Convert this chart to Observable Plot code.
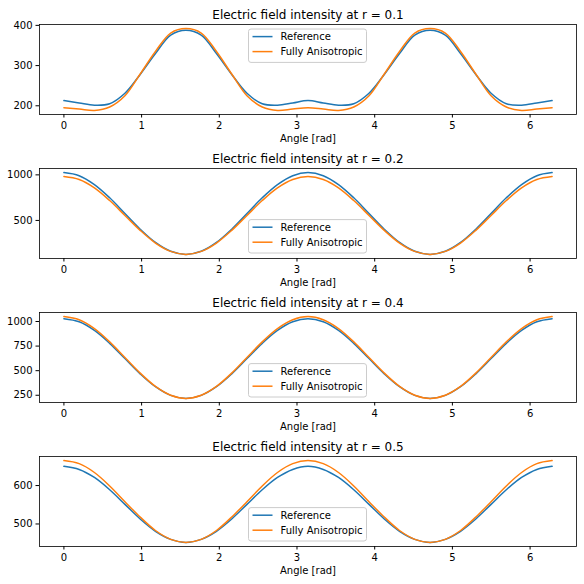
<!DOCTYPE html>
<html>
<head>
<meta charset="utf-8">
<script src="https://cdn.jsdelivr.net/npm/d3@7"></script>
<script src="https://cdn.jsdelivr.net/npm/@observablehq/plot@0.6"></script>
<style>
  html, body { margin: 0; padding: 0; background: #fff; }
  #chart { width: 584px; height: 584px; overflow: hidden; background: #fff; }
  #chart svg { display: block; }
</style>
</head>
<body>
<div id="chart"></div>
<script>
// ---- Data ----
const angles = [0, 0.19635, 0.3927, 0.58905, 0.7854, 0.98175, 1.1781, 1.37445, 1.5708,
  1.76715, 1.9635, 2.15985, 2.35619, 2.55254, 2.74889, 2.94524, 3.14159,
  3.33794, 3.53429, 3.73064, 3.92699, 4.12334, 4.31969, 4.51604, 4.71239,
  4.90874, 5.10509, 5.30144, 5.49779, 5.69414, 5.89049, 6.08684, 6.28319];

const radii = ["0.1", "0.2", "0.4", "0.5"];
const seriesNames = ["Reference", "Fully Anisotropic"];
const seriesColors = ["#1f77b4", "#ff7f0e"];

const ref01 = [213, 207, 201.5, 205, 231, 278, 330, 376, 388, 376, 330, 278, 231, 205, 201.5, 207, 213,
  207, 201.5, 205, 231, 278, 330, 376, 388, 376, 330, 278, 231, 205, 201.5, 207, 213];
const aniso01 = [195, 192, 188.5, 197, 225, 279, 335, 381, 392, 381, 335, 279, 225, 197, 188.5, 192, 195,
  192, 188.5, 197, 225, 279, 335, 381, 392, 381, 335, 279, 225, 197, 188.5, 192, 195];

const ref02 = [1025, 991, 893, 748, 576, 404, 258, 161, 127, 161, 258, 404, 576, 748, 893, 991, 1025,
  991, 893, 748, 576, 404, 258, 161, 127, 161, 258, 404, 576, 748, 893, 991, 1025];
const aniso02 = [982, 949, 857, 718, 555, 391, 252, 160, 127, 160, 252, 391, 555, 718, 857, 949, 982,
  949, 857, 718, 555, 391, 252, 160, 127, 160, 252, 391, 555, 718, 857, 949, 982];

const ref04 = [1028, 997, 909, 778, 623, 468, 337, 249, 218, 249, 337, 468, 623, 778, 909, 997, 1028,
  997, 909, 778, 623, 468, 337, 249, 218, 249, 337, 468, 623, 778, 909, 997, 1028];
const aniso04 = [1050, 1018, 928, 793, 634, 475, 340, 250, 218, 250, 340, 475, 634, 793, 928, 1018, 1050,
  1018, 928, 793, 634, 475, 340, 250, 218, 250, 340, 475, 634, 793, 928, 1018, 1050];

const ref05 = [650, 642, 621, 589, 551, 513, 481, 460, 452, 460, 481, 513, 551, 589, 621, 642, 650,
  642, 621, 589, 551, 513, 481, 460, 452, 460, 481, 513, 551, 589, 621, 642, 650];
const aniso05 = [665, 657, 634, 599, 558, 518, 483, 460, 452, 460, 483, 518, 558, 599, 634, 657, 665,
  657, 634, 599, 558, 518, 483, 460, 452, 460, 483, 518, 558, 599, 634, 657, 665];

const xTicks = [0, 1, 2, 3, 4, 5, 6];
const yTicks01 = [200, 300, 400];
const yTicks02 = [500, 1000];
const yTicks04 = [250, 500, 750, 1000];
const yTicks05 = [500, 600];
const legendPlacement = ["top", "bottom", "bottom", "bottom"];
const xLabel = "Angle [rad]";

// ---- Build panels ----
const refs = [ref01, ref02, ref04, ref05];
const anis = [aniso01, aniso02, aniso04, aniso05];
const yTicks = [yTicks01, yTicks02, yTicks04, yTicks05];

const W = 584, H = 144;
const M = { top: 24, bottom: 30, left: 39, right: 8 };
const FONT = "DejaVu Sans, sans-serif";

const container = document.getElementById("chart");

radii.forEach((r, i) => {
  const rows = [];
  angles.forEach((a, j) => {
    rows.push({ angle: a, value: refs[i][j], series: seriesNames[0] });
  });
  angles.forEach((a, j) => {
    rows.push({ angle: a, value: anis[i][j], series: seriesNames[1] });
  });
  const vals = refs[i].concat(anis[i]);
  const lo = d3.min(vals), hi = d3.max(vals), pad = (hi - lo) * 0.05;
  const a0 = d3.min(angles), a1 = d3.max(angles), xpad = (a1 - a0) * 0.05;

  const svg = Plot.plot({
    width: W, height: H,
    marginTop: M.top, marginBottom: M.bottom, marginLeft: M.left, marginRight: M.right,
    style: { fontFamily: FONT, fontSize: "10px", color: "black", background: "white", overflow: "visible" },
    x: { domain: [a0 - xpad, a1 + xpad] },
    y: { domain: [lo - pad, hi + pad] },
    color: { domain: seriesNames, range: seriesColors },
    marks: [
      Plot.line(rows, { x: "angle", y: "value", stroke: "series", strokeWidth: 1.5, curve: "catmull-rom" }),
      Plot.frame({ stroke: "black", strokeWidth: 0.8 }),
      Plot.axisX({ ticks: xTicks, tickSize: 3.5, tickPadding: 3.5, label: null, tickFormat: d3.format("d"), fontSize: 10 }),
      Plot.axisY({ ticks: yTicks[i], tickSize: 3.5, tickPadding: 3.5, label: null, tickFormat: d3.format("d"), fontSize: 10 }),
      Plot.text([`Electric field intensity at r = ${r}`], {
        frameAnchor: "top", dy: -6, lineAnchor: "bottom", fontSize: 12, fill: "black"
      }),
      Plot.text([xLabel], {
        frameAnchor: "bottom", dy: 24, lineAnchor: "middle", fontSize: 10, fill: "black"
      })
    ]
  });

  // Legend (matplotlib-like box)
  const fx0 = M.left, fx1 = W - M.right, fy0 = M.top, fy1 = H - M.bottom;
  const bw = 118, bh = 33.4;
  const bx = (fx0 + fx1) / 2 - bw / 2;
  const by = legendPlacement[i] === "top" ? fy0 + 5 : fy1 - 5 - bh;
  const g = d3.select(svg).append("g")
    .attr("font-family", FONT).attr("font-size", 10).attr("text-anchor", "start");
  g.append("rect")
    .attr("x", bx).attr("y", by).attr("width", bw).attr("height", bh)
    .attr("rx", 2.5).attr("fill", "white").attr("fill-opacity", 0.8)
    .attr("stroke", "#cccccc").attr("stroke-width", 1);
  seriesNames.forEach((name, k) => {
    const yy = by + 7.6 + k * 15;
    g.append("line")
      .attr("x1", bx + 4).attr("x2", bx + 24).attr("y1", yy).attr("y2", yy)
      .attr("stroke", seriesColors[k]).attr("stroke-width", 1.5);
    g.append("text")
      .attr("x", bx + 32).attr("y", yy).attr("dy", "0.35em")
      .attr("text-anchor", "start")
      .attr("fill", "black").text(name);
  });

  container.appendChild(svg);
});
</script>
</body>
</html>
